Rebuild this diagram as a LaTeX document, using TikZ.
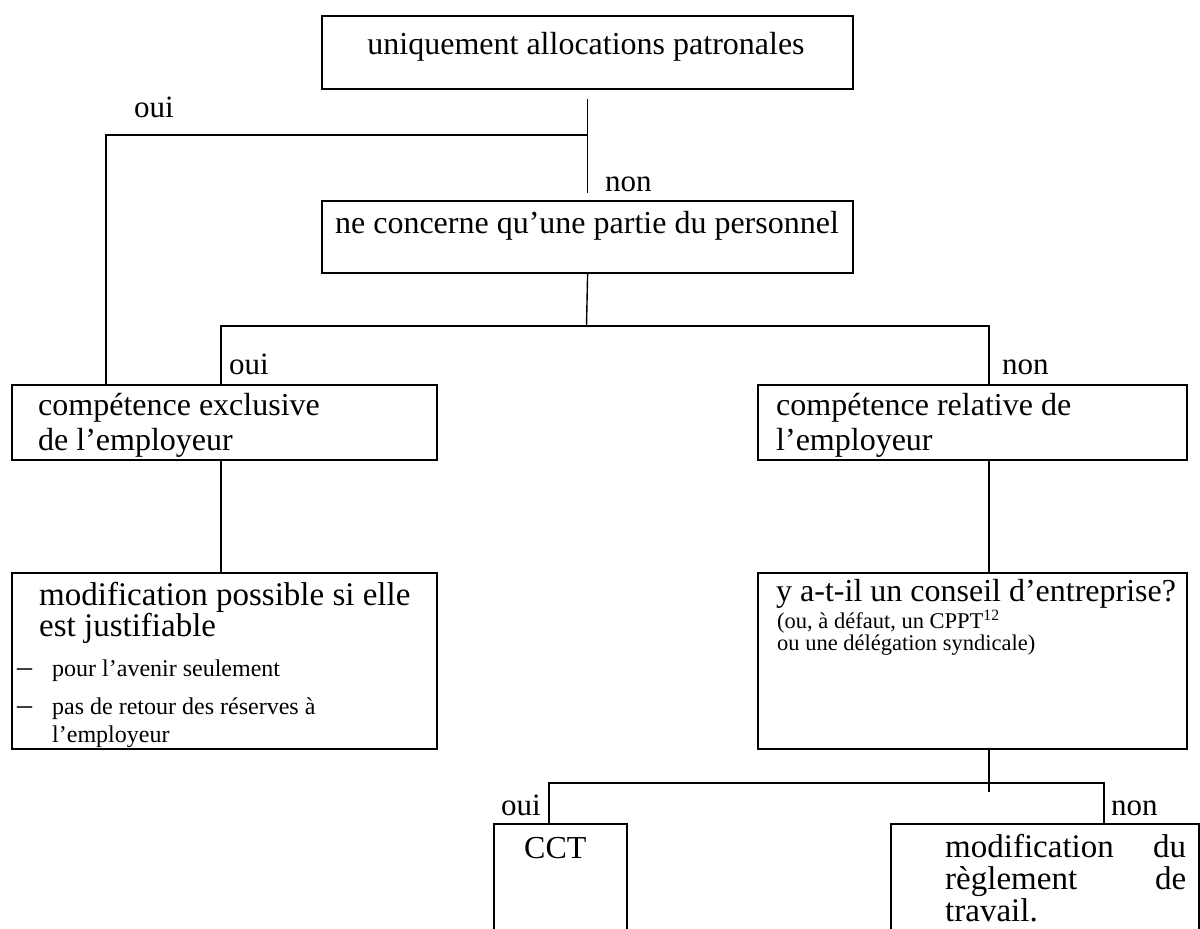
\documentclass[tikz,border=0pt]{standalone}
\usepackage{fontspec}
\setmainfont{Liberation Serif}
\newcommand\fsz[1]{\fontsize{#1}{#1}\selectfont}
\tikzset{
  box/.style={draw, line width=2.2pt, inner sep=0pt, anchor=north west},
  conn/.style={line width=1.4pt},
  txt/.style={anchor=base west, inner sep=0pt},
  ctxt/.style={anchor=base, inner sep=0pt},
  lbl/.style={anchor=base west, inner sep=0pt, font=\fsz{31}}
}
\begin{document}
\begin{tikzpicture}[x=1pt,y=-1pt]
\clip (0,0) rectangle (1200,929);
\fill[white] (0,0) rectangle (1200,929);
% boxes
\node[box, minimum width=531pt, minimum height=73pt] (b1) at (321,15) {};
\node[box, minimum width=531pt, minimum height=72pt] (b2) at (321,200) {};
\node[box, minimum width=425pt, minimum height=75pt] (b3) at (11,384) {};
\node[box, minimum width=429pt, minimum height=75pt] (b4) at (757,384) {};
\node[box, minimum width=425pt, minimum height=176pt] (b5) at (11,572) {};
\node[box, minimum width=429pt, minimum height=176pt] (b6) at (757,572) {};
\node[box, minimum width=133pt, minimum height=130pt] (b7) at (493,823) {};
\node[box, minimum width=308pt, minimum height=130pt] (b8) at (890,823) {};
% texts
\node[ctxt, font=\fsz{32}] (t1) at (586,54) {uniquement allocations patronales};
\node[ctxt, font=\fsz{32}] (t2) at (587,233) {ne concerne qu’une partie du personnel};
\node[txt, font=\fsz{32}] (t3a) at (38,415) {compétence exclusive};
\node[txt, font=\fsz{32}] (t3b) at (38,450) {de l’employeur};
\node[txt, font=\fsz{32}] (t4a) at (776,415) {compétence relative de};
\node[txt, font=\fsz{32}] (t4b) at (776,450) {l’employeur};
\node[txt, font=\fsz{33}] (t5a) at (39,605) {modification possible si elle};
\node[txt, font=\fsz{33}] (t5b) at (39,636) {est justifiable};
\node[txt, font=\fsz{30}] (d5a) at (17,676) {–};
\node[txt, font=\fsz{24}] (t5c) at (52,676) {pour l’avenir seulement};
\node[txt, font=\fsz{30}] (d5b) at (17,714) {–};
\node[txt, font=\fsz{24}] (t5d) at (52,714) {pas de retour des réserves à};
\node[txt, font=\fsz{24}] (t5e) at (52,742) {l’employeur};
\node[txt, font=\fsz{32}] (t6a) at (776,601) {y a-t-il un conseil d’entreprise?};
\node[txt, font=\fsz{22.5}] (t6b) at (777,628) {(ou, à défaut, un CPPT\textsuperscript{12}};
\node[txt, font=\fsz{22.5}] (t6c) at (777,650) {ou une délégation syndicale)};
\node[txt, font=\fsz{32}] (t7) at (524,858) {CCT};
\node[txt, font=\fsz{33}] (t8a) at (945,857) {\makebox[241pt][l]{modification\hfill du}};
\node[txt, font=\fsz{33}] (t8b) at (945,889) {\makebox[241pt][l]{règlement\hfill de}};
\node[txt, font=\fsz{33}] (t8c) at (945,921) {travail.};
% labels
\node[lbl] (oui1) at (134,117) {oui};
\node[lbl] (non1) at (605,191) {non};
\node[lbl] (oui2) at (229,374) {oui};
\node[lbl] (non2) at (1002,374) {non};
\node[lbl] (oui3) at (501,815) {oui};
\node[lbl] (non3) at (1111,815) {non};
% junctions
\coordinate (j0) at (586.5,135);
\coordinate (j1) at (586.5,326);
\coordinate (j2) at (988,783);
% connectors
\draw[conn] ([yshift=-9pt]b1.south) -- ([yshift=7pt]b2.north);
\draw[conn] (j0) -| ([xshift=-118.5pt]b3.north);
\draw[conn] (b2.south) -- (j1);
\draw[conn] ([xshift=-3.5pt]b3.north) |- (j1) -| ([xshift=16.5pt]b4.north);
\draw[conn] ([xshift=-3.5pt]b3.south) -- ([xshift=-3.5pt]b5.north);
\draw[conn] ([xshift=16.5pt]b4.south) -- ([xshift=16.5pt]b6.north);
\draw[conn] ([xshift=16.5pt]b6.south) -- ([xshift=16.5pt,yshift=-42pt]b6.south);
\draw[conn] ([xshift=-11.5pt]b7.north) |- (j2) -| ([xshift=59pt]b8.north);
\end{tikzpicture}
\end{document}
